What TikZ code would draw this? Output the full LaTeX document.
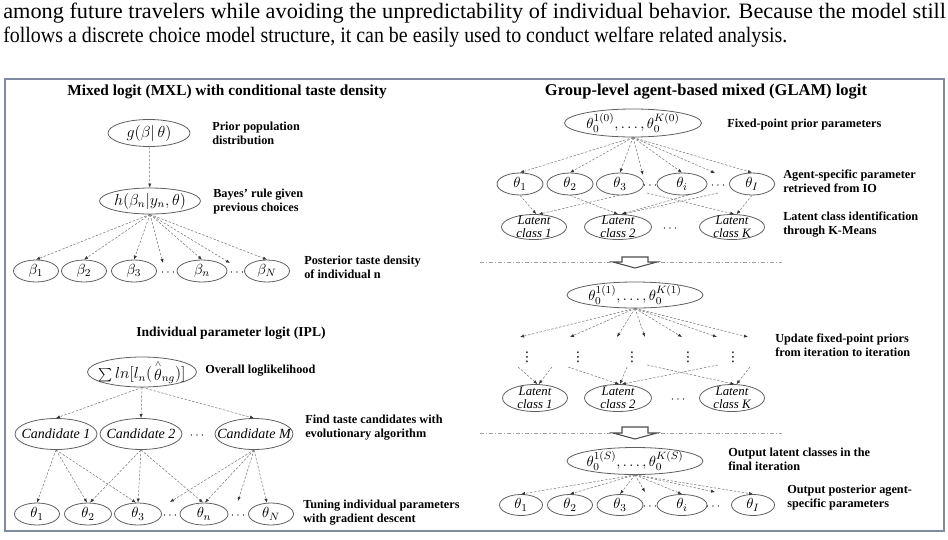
\documentclass[tikz,border=0pt]{standalone}
\usepackage{fontspec}
\setmainfont{Liberation Serif}
\newfontfamily\dejavu{DejaVu Sans}
\usepackage{graphicx}
\usetikzlibrary{arrows.meta,shapes.geometric}
\definecolor{framec}{RGB}{128,138,162}
\definecolor{ellc}{RGB}{95,95,95}
\definecolor{conc}{RGB}{120,120,120}
\definecolor{sepc}{RGB}{160,160,160}
\begin{document}
\begin{tikzpicture}[x=0.75pt,y=-0.75pt,
  ell/.style 2 args={ellipse, draw=ellc, line width=0.6pt, inner sep=0pt,
     minimum width=#1*0.75pt, minimum height=#2*0.75pt},
  etx/.style={inner sep=0pt, font=\fontsize{11}{12}\selectfont},
  etxb/.style={inner sep=0pt, font=\fontsize{12}{13}\selectfont},
  ctx/.style={inner sep=0pt, font=\itshape\fontsize{10.5}{12}\selectfont},
  ltx/.style={inner sep=0pt, align=center, font=\itshape\fontsize{9.6}{9.4}\selectfont},
  lbl/.style={anchor=west, align=left, inner sep=0pt, font=\bfseries\fontsize{9.2}{10.5}\selectfont},
  ttl/.style={inner sep=0pt, font=\bfseries\fontsize{11.5}{13}\selectfont},
  para/.style={inner sep=0pt, anchor=base west, font=\fontsize{16.5}{19}\selectfont},
  dts/.style={inner sep=0pt, font=\fontsize{9}{10}\selectfont},
  vdt/.style={inner sep=0pt, font=\dejavu\fontsize{10}{11}\selectfont},
  con/.style={draw=conc, dash pattern=on 1.8pt off 1.2pt, line width=0.4pt,
     -{Latex[length=3pt,width=2.4pt,color=black!80]}},
  sepl/.style={draw=sepc, line width=0.5pt, dash pattern=on 3pt off 1.5pt on 0.8pt off 1.5pt},
  harrow/.style={draw=black!70, fill=white, line width=0.8pt, line join=miter}
]
\useasboundingbox (0,0) rectangle (948,539);

% paragraph
\node[para] (p1) at (3,18) {\resizebox{707pt}{\height}{among future travelers while avoiding the unpredictability of individual behavior. Because the model still}};
\node[para] (p2) at (3,42) {\resizebox{588pt}{\height}{follows a discrete choice model structure, it can be easily used to conduct welfare related analysis.}};

% frame
\draw[framec, line width=1.1pt] (5,79) rectangle (944,531);

%% ---------------- MXL ----------------
\node[ttl] (ttlA) at (227,92) {Mixed logit (MXL) with conditional taste density};
\node[ell={82}{27}, label={[etxb]center:$g(\beta|\,\theta)$}] (g) at (149,133) {};
\node[lbl] (gl) at (212,133) {Prior population\\distribution};
\node[ell={101}{26}, label={[etxb]center:$h(\beta_n|y_n,\theta)$}] (h) at (150,201) {};
\node[lbl] (hl) at (213,202) {Bayes' rule given\\previous choices};
\node[ell={45}{22}, label={[etx]center:$\beta_1$}] (b1) at (36,271) {};
\node[ell={45}{22}, label={[etx]center:$\beta_2$}] (b2) at (84,271) {};
\node[ell={45}{22}, label={[etx]center:$\beta_3$}] (b3) at (134,271) {};
\node[ell={50}{22}, label={[etx]center:$\beta_n$}] (bn) at (202,271) {};
\node[ell={45}{22}, label={[etx]center:$\beta_N$}] (bN) at (267,271) {};
\node[dts] (bd1) at (168,273) {$\cdots$};
\node[dts] (bd2) at (237,273) {$\cdots$};
\coordinate (ba1) at (163,263);
\coordinate (ba2) at (230,263);
\node[lbl] (bl) at (304,267) {Posterior taste density\\of individual n};
\draw[con] (g) -- (h);
\draw[con] (h.south) -- (b1.north);
\draw[con] (h.south) -- (b2.north);
\draw[con] (h.south) -- (b3.north);
\draw[con] (h.south) -- (ba1);
\draw[con] (h.south) -- (bn.north);
\draw[con] (h.south) -- (ba2);
\draw[con] (h.south) -- (bN.north);

%% ---------------- IPL ----------------
\node[ttl, font=\bfseries\fontsize{10.2}{12}\selectfont] (ttlB) at (231,333) {Individual parameter logit (IPL)};
\node[ell={109}{30}, label={[etxb]center:$\sum ln\bigl[l_n(\mkern2mu{\stackrel{\scriptscriptstyle\wedge}{\theta}}_{ng})\bigr]$}] (S) at (142,372) {};
\node[lbl] (Sl) at (205,371) {Overall loglikelihood};
\node[ell={82}{31}, label={[ctx]center:Candidate 1}] (c1) at (56,434) {};
\node[ell={82}{31}, label={[ctx]center:Candidate 2}] (c2) at (141,434) {};
\node[ell={78}{31}, label={[ctx]center:Candidate M}] (cM) at (254,434) {};
\node[dts] (cd) at (197,436) {$\cdots$};
\node[lbl] (cl) at (305,428) {Find taste candidates with\\evolutionary algorithm};
\node[ell={45}{22}, label={[etx]center:$\theta_1$}] (i1) at (37,514) {};
\node[ell={47}{22}, label={[etx]center:$\theta_2$}] (i2) at (88,514) {};
\node[ell={47}{22}, label={[etx]center:$\theta_3$}] (i3) at (138,514) {};
\node[ell={48}{22}, label={[etx]center:$\theta_n$}] (in) at (204,514) {};
\node[ell={45}{22}, label={[etx]center:$\theta_N$}] (iN) at (271,514) {};
\node[dts] (id1) at (170,516) {$\cdots$};
\node[dts] (id2) at (238,516) {$\cdots$};
\coordinate (ia1) at (170,502);
\coordinate (ia2) at (238,501);
\node[lbl] (il) at (303,513) {Tuning individual parameters\\with gradient descent};
\draw[con] (S.south) -- (c1.north);
\draw[con] (S.south) -- (c2.north);
\draw[con] (S.south) -- (cM.north);
\draw[con] (c1.south) -- (i1.north);
\draw[con] (c1.south) -- (i2.95);
\draw[con] (c1.south) -- (i3.100);
\draw[con] (c2.south) -- (i2.80);
\draw[con] (c2.south) -- (i3.90);
\draw[con] (c2.south) -- (in.95);
\draw[con] (cM.south) -- (ia1);
\draw[con] (cM.south) -- (in.85);
\draw[con] (cM.south) -- (ia2);
\draw[con] (cM.south) -- (iN.110);

%% ---------------- GLAM ----------------
\node[ttl, font=\bfseries\fontsize{12.4}{14}\selectfont] (ttlC) at (706,92) {Group-level agent-based mixed (GLAM) logit};
\node[ell={137}{28}, label={[etx]center:$\theta_0^{1(0)},\ldots,\theta_0^{K(0)}$}] (P0) at (633,123) {};
\node[lbl] (P0l) at (727,125) {Fixed-point prior parameters};
\node[ell={46}{22}, label={[etx]center:$\theta_1$}] (ra1) at (520,184) {};
\node[ell={46}{22}, label={[etx]center:$\theta_2$}] (ra2) at (570,184) {};
\node[ell={47}{22}, label={[etx]center:$\theta_3$}] (ra3) at (620,184) {};
\node[ell={50}{22}, label={[etx]center:$\theta_i$}] (rai) at (682,184) {};
\node[ell={45}{22}, label={[etx]center:$\theta_I$}] (raI) at (752,184) {};
\node[dts] (rad1) at (650,186) {$\cdots$};
\node[dts] (rad2) at (718,186) {$\cdots$};
\coordinate (rA1) at (643,175);
\coordinate (rA2) at (715,173);
\node[lbl] (Al) at (783,181) {Agent-specific parameter\\retrieved from IO};
\node[ell={65}{25}, label={[ltx]center:{Latent\\class 1}}] (la1) at (534,227) {};
\node[ell={67}{25}, label={[ltx]center:{Latent\\class 2}}] (la2) at (618,227) {};
\node[ell={65}{25}, label={[ltx]center:{Latent\\class K}}] (laK) at (732,227) {};
\node[dts] (lad) at (670,229) {$\cdots$};
\node[lbl] (LCl) at (783,225) {Latent class identification\\through K-Means};
\draw[con] (P0.south) -- (ra1.north);
\draw[con] (P0.south) -- (ra2.north);
\draw[con] (P0.south) -- (ra3.north);
\draw[con] (P0.south) -- (rA1);
\draw[con] (P0.south) -- (rai.north);
\draw[con] (P0.south) -- (rA2);
\draw[con] (P0.south) -- (raI.north);
\coordinate (rB1) at (647,193);
\coordinate (rB2) at (718,193);
\draw[con] (ra1.south) -- (la1.80);
\draw[con] (ra3.265) -- (la1.70);
\draw[con] (ra2.south) -- (la2.90);
\draw[con] (rB1) -- (laK.80);
\draw[con] (rai.300) -- (la2.75);
\draw[con] (rB2) -- (la2.72);
\draw[con] (raI.south) -- (laK.70);

% separator 1
\coordinate (s1a) at (480,262);
\coordinate (s1b) at (782,262);
\draw[sepl] (s1a) -- (s1b);
\draw[harrow] (622,257) -- (648,257) -- (648,262) -- (657,262) -- (635,268) -- (613,262) -- (622,262) -- cycle;

\node[ell={136}{26}, label={[etx]center:$\theta_0^{1(1)},\ldots,\theta_0^{K(1)}$}] (P1) at (635,295) {};
\coordinate (rC1) at (520,337);
\coordinate (rC2) at (570,337);
\coordinate (rC3) at (617,337);
\coordinate (rC4) at (645,337);
\coordinate (rC5) at (682,337);
\coordinate (rC6) at (717,337);
\coordinate (rC7) at (748,337);
\foreach \c in {rC1,rC2,rC3,rC4,rC5,rC6,rC7} \draw[con] (P1.south) -- (\c);
\node[vdt] (v1) at (527,357) {⋮};
\node[vdt] (v2) at (578,357) {⋮};
\node[vdt] (v3) at (632,357) {⋮};
\node[vdt] (v4) at (688,357) {⋮};
\node[vdt] (v5) at (733,357) {⋮};
\node[lbl] (Ul) at (775,345) {Update fixed-point priors\\from iteration to iteration};
\node[ell={65}{27}, label={[ltx]center:{Latent\\class 1}}] (lb1) at (535,398) {};
\node[ell={67}{27}, label={[ltx]center:{Latent\\class 2}}] (lb2) at (618,398) {};
\node[ell={65}{27}, label={[ltx]center:{Latent\\class K}}] (lbK) at (732,398) {};
\node[dts] (lbd) at (678,400) {$\cdots$};
\coordinate (rD1) at (518,367);
\coordinate (rD2) at (552,367);
\coordinate (rD3) at (568,367);
\coordinate (rD4) at (627,367);
\coordinate (rD5) at (647,365);
\coordinate (rD6) at (718,365);
\coordinate (rD7) at (750,367);
\draw[con] (rD1) -- (lb1.80);
\draw[con] (rD2) -- (lb1.75);
\draw[con] (rD3) -- (lb2.85);
\draw[con] (rD4) -- (lb2.82);
\draw[con] (rD5) -- (lbK.80);
\draw[con] (rD6) -- (lb2.75);
\draw[con] (rD7) -- (lbK.72);

% separator 2
\coordinate (s2a) at (480,433);
\coordinate (s2b) at (782,433);
\draw[sepl] (s2a) -- (s2b);
\draw[harrow] (622,427) -- (648,427) -- (648,433) -- (657,433) -- (635,439) -- (613,433) -- (622,433) -- cycle;

\node[ell={136}{27}, label={[etx]center:$\theta_0^{1(S)},\ldots,\theta_0^{K(S)}$}] (PS) at (635,461) {};
\node[lbl] (PSl) at (728,459) {Output latent classes in the\\final iteration};
\node[ell={43}{21}, label={[etx]center:$\theta_1$}] (rs1) at (521,505) {};
\node[ell={45}{21}, label={[etx]center:$\theta_2$}] (rs2) at (570,505) {};
\node[ell={46}{21}, label={[etx]center:$\theta_3$}] (rs3) at (620,505) {};
\node[ell={50}{21}, label={[etx]center:$\theta_i$}] (rsi) at (682,505) {};
\node[ell={43}{21}, label={[etx]center:$\theta_I$}] (rsI) at (753,505) {};
\node[dts] (rsd1) at (650,507) {$\cdots$};
\node[dts] (rsd2) at (713,507) {$\cdots$};
\coordinate (rE1) at (645,492);
\coordinate (rE2) at (715,492);
\node[lbl] (Ol) at (787,498) {Output posterior agent-\\specific parameters};
\draw[con] (PS.south) -- (rs1.north);
\draw[con] (PS.south) -- (rs2.north);
\draw[con] (PS.south) -- (rs3.north);
\draw[con] (PS.south) -- (rE1);
\draw[con] (PS.south) -- (rsi.north);
\draw[con] (PS.south) -- (rE2);
\draw[con] (PS.south) -- (rsI.north);
\end{tikzpicture}
\end{document}
